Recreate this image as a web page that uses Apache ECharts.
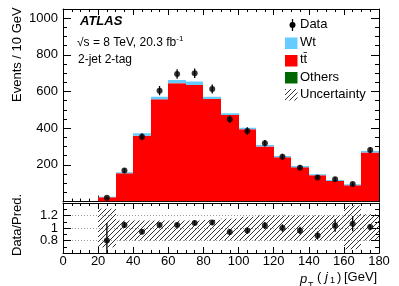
<!DOCTYPE html>
<html><head><meta charset="utf-8">
<script src="https://cdn.jsdelivr.net/npm/echarts@6/dist/echarts.min.js"></script>
<style>html,body{margin:0;padding:0;background:#fff}#c{width:399px;height:286px}</style>
</head><body><div id="c"></div>
<script>
// ---- data ----
const binEdges = [0,10,20,30,40,50,60,70,80,90,100,110,120,130,140,150,160,170,180];
const others  = [0,0,0.5,2,2,2,2,2,2,2,2,2,2,2,2,2,2,2];
const ttbar   = [0,0,23.5,152,357,556,643,634,558,470,392,298,240,185,141,110,87,265];
const wt      = [0,0,3,6,14,14,18,19,12,10,9,9,7,7,6,6,5,9];
const dataVal = [null,null,21,169,354,605,696,700,614,449,385,318,245,185,131,122,96,281];
const dataErr = [0,0,5,13,19,25,26,26,25,21,20,18,16,14,11,11,10,17];
const ratioVal = [null,null,0.80,1.05,0.94,1.05,1.05,1.08,1.09,0.935,0.96,1.04,1.00,0.96,0.88,1.04,1.07,1.015];
const ratioErr = [0,0,0.28,0.05,0.04,0.035,0.035,0.035,0.04,0.045,0.05,0.055,0.06,0.06,0.065,0.10,0.12,0.05];
const bandUp   = [null,null,1.31,1.12,1.12,1.12,1.12,1.12,1.13,1.15,1.18,1.2,1.2,1.2,1.2,1.2,1.36,1.22];
const bandDown = [null,null,0.69,0.8,0.8,0.8,0.8,0.8,0.8,0.8,0.8,0.8,0.8,0.8,0.8,0.8,0.66,0.8];
const xTicks = [0,20,40,60,80,100,120,140,160,180];
const yTicks = [200,400,600,800,1000];
const rTicks = [0.8,1,1.2];

const FONT = '"Liberation Sans", Arial, Helvetica, sans-serif';
const RED = '#ff0000', CYAN = '#66ccff', GREEN = '#006600';

function hatch(){
  const n=5, c=document.createElement('canvas'); c.width=n; c.height=n;
  const g=c.getContext('2d'); g.strokeStyle='#333'; g.lineWidth=1;
  g.beginPath(); g.moveTo(0,n); g.lineTo(n,0); g.moveTo(-1,1); g.lineTo(1,-1); g.moveTo(n-1,n+1); g.lineTo(n+1,n-1); g.stroke();
  return c;
}
const HATCH = {image: hatch(), repeat: 'repeat'};

const nb = binEdges.length-1;
const bins = [...Array(nb).keys()];
const centers = bins.map(i => (binEdges[i]+binEdges[i+1])/2);

function stackData(lowArr, highArr){
  return bins.map(i => [binEdges[i], binEdges[i+1], lowArr[i], highArr[i]]);
}
const lvl0 = bins.map(()=>0);
const lvl1 = bins.map(i => others[i]);
const lvl2 = bins.map(i => others[i]+ttbar[i]);
const lvl3 = bins.map(i => others[i]+ttbar[i]+wt[i]);

function rectSeries(name, fill, data, xi, yi, z){
  return {
    type:'custom', name, xAxisIndex:xi, yAxisIndex:yi, z: z||2, clip:true,
    encode:{x:[0,1], y:[2,3]},
    data,
    renderItem(params, api){
      if (api.value(2)==null || isNaN(api.value(2))) return;
      const a = api.coord([api.value(0), api.value(3)]);
      const b = api.coord([api.value(1), api.value(2)]);
      const x0 = Math.round(a[0]), x1 = Math.round(b[0]);
      const r = {x:x0, y:a[1], width:x1-x0, height:b[1]-a[1]};
      const cs = params.coordSys;
      const clipped = echarts.graphic.clipRectByRect(r, {x:cs.x, y:cs.y, width:cs.width, height:cs.height});
      if (!clipped) return;
      return {type:'rect', shape:clipped, style:{fill}};
    }
  };
}
function errSeries(vals, errs, xi, yi){
  return {
    type:'custom', xAxisIndex:xi, yAxisIndex:yi, z:5, clip:true,
    encode:{x:0, y:[1,2]},
    data: bins.filter(i=>vals[i]!=null).map(i => [centers[i], vals[i]-errs[i], vals[i]+errs[i]]),
    renderItem(params, api){
      const a = api.coord([api.value(0), api.value(1)]);
      const b = api.coord([api.value(0), api.value(2)]);
      const cs = params.coordSys;
      const y1 = Math.max(cs.y, Math.min(cs.y+cs.height, b[1]));
      const y2 = Math.max(cs.y, Math.min(cs.y+cs.height, a[1]));
      return {type:'line', shape:{x1:a[0], y1:y1, x2:a[0], y2:y2}, style:{stroke:'#000', lineWidth:1.3}};
    }
  };
}

const axTxt = {fontFamily:FONT, fontSize:13, color:'#000'};
function xAx(grid, pos, labels){
  return {type:'value', gridIndex:grid, position:pos, min:0, max:180, interval:20,
    axisLine:{show:true, onZero:false, lineStyle:{color:'#000', width:1}},
    axisTick:{show:true, inside:true, length:6, lineStyle:{color:'#000'}},
    minorTick:{show:true, splitNumber:4, length:3, lineStyle:{color:'#000'}},
    axisLabel: labels ? Object.assign({show:true, margin:2, formatter:v=>xTicks.includes(v)?String(v):''}, axTxt) : {show:false},
    splitLine:{show:false}};
}
function yAxMain(pos, labels, minor){
  return {type:'value', gridIndex:0, position:pos, min:0, max:1050, interval: minor?50:200,
    axisLine:{show:!minor, onZero:false, lineStyle:{color:'#000', width:1}},
    axisTick:{show:true, inside:true, length: minor?4:8, lineStyle:{color:'#000'}},
    axisLabel: labels ? Object.assign({show:true, margin:5, formatter:v=>yTicks.includes(v)?String(v):''}, axTxt) : {show:false},
    splitLine:{show:false}};
}
function yAxRatio(pos, labels){
  return {type:'value', gridIndex:1, position:pos, min:0.6, max:1.4, interval:0.2,
    axisLine:{show:true, onZero:false, lineStyle:{color:'#000', width:1}},
    axisTick:{show:true, inside:true, length:8, lineStyle:{color:'#000'}},
    minorTick:{show:true, splitNumber:2, length:4, lineStyle:{color:'#000'}},
    axisLabel: labels ? Object.assign({show:true, margin:5, formatter:v=>{const r=Math.round(v*10)/10; return rTicks.includes(r)?String(r):'';}}, axTxt) : {show:false},
    splitLine:{show: labels, lineStyle:{color:'#999', type:[1,2], width:1}}};
}

const chart = echarts.init(document.getElementById('c'), null, {renderer:'canvas'});
const graphics = [
  {type:'text', left:80, top:15, style:{text:'ATLAS', font:'italic bold 13px '+FONT, fill:'#000'}},
  {type:'text', left:77, top:35, style:{text:'{n|\u221As = 8 TeV, 20.3 fb}{s|-1}', rich:{n:{fontFamily:FONT, fontSize:12, lineHeight:14, verticalAlign:'bottom'}, s:{fontFamily:FONT, fontSize:8, lineHeight:14, verticalAlign:'top', padding:[0,0,6,0]}}, fill:'#000'}},
  {type:'text', left:78, top:54, style:{text:'2-jet 2-tag', font:'12px '+FONT, fill:'#000'}},
  // legend
  {type:'line', shape:{x1:292.5, y1:19, x2:292.5, y2:31}, style:{stroke:'#000', lineWidth:1.3}},
  {type:'circle', shape:{cx:292.5, cy:25, r:3}, style:{fill:'#000'}},
  {type:'rect', shape:{x:285, y:37.5, width:12.5, height:11.5}, style:{fill:CYAN}},
  {type:'rect', shape:{x:285, y:55, width:12.5, height:11.5}, style:{fill:RED}},
  {type:'rect', shape:{x:285, y:72, width:12.5, height:11.5}, style:{fill:GREEN}},
  {type:'rect', shape:{x:285, y:89, width:12.5, height:11.5}, style:{fill:HATCH}},
  {type:'text', left:300, top:18, style:{text:'Data', font:'13px '+FONT, fill:'#000'}},
  {type:'text', left:300, top:36, style:{text:'Wt', font:'13px '+FONT, fill:'#000'}},
  {type:'text', left:300, top:53, style:{text:'tt\u0304', font:'13px '+FONT, fill:'#000'}},
  {type:'text', left:300, top:71, style:{text:'Others', font:'13px '+FONT, fill:'#000'}},
  {type:'text', left:300, top:88, style:{text:'Uncertainty', font:'13px '+FONT, fill:'#000'}},
  // axis titles
  {type:'text', x:11, y:102, rotation:Math.PI/2, style:{text:'Events / 10 GeV', font:'13px '+FONT, fill:'#000', textVerticalAlign:'top'}},
  {type:'text', x:11, y:256, rotation:Math.PI/2, style:{text:'Data/Pred.', font:'13px '+FONT, fill:'#000', textVerticalAlign:'top'}},
  {type:'text', x:300, y:273, style:{text:'p', font:'italic 13px '+FONT, fill:'#000'}},
  {type:'text', x:308, y:281, style:{text:'T', font:'9px '+FONT, fill:'#000'}},
  {type:'text', x:317, y:271, style:{text:'(', font:'13px '+FONT, fill:'#000'}},
  {type:'text', x:325, y:271, style:{text:'j', font:'italic 13px '+FONT, fill:'#000'}},
  {type:'text', x:330, y:276, style:{text:'1', font:'9px '+FONT, fill:'#000'}},
  {type:'text', x:337, y:271, style:{text:')', font:'13px '+FONT, fill:'#000'}},
  {type:'text', x:344, y:271, style:{text:'[GeV]', font:'13px '+FONT, fill:'#000'}}
];

chart.setOption({
  animation:false,
  backgroundColor:'#fff',
  grid:[
    {left:63, right:20, top:9, height:192.6, containLabel:false},
    {left:63, right:20, top:203, height:50, containLabel:false}
  ],
  xAxis:[ xAx(0,'bottom',false), xAx(0,'top',false), xAx(1,'bottom',true), xAx(1,'top',false) ],
  yAxis:[ yAxMain('left',true,false), yAxMain('left',false,true), yAxMain('right',false,false), yAxMain('right',false,true),
          yAxRatio('left',true), yAxRatio('right',false) ],
  graphic: graphics,
  series:[
    rectSeries('Others', GREEN, stackData(lvl0, lvl1), 0, 0, 2),
    rectSeries('ttbar', RED, stackData(lvl1, lvl2), 0, 0, 2),
    rectSeries('Wt', CYAN, stackData(lvl2, lvl3), 0, 0, 2),
    errSeries(dataVal, dataErr, 0, 0),
    {type:'scatter', xAxisIndex:0, yAxisIndex:0, z:6, symbol:'circle', symbolSize:6, itemStyle:{color:'#000'},
      data: bins.filter(i=>dataVal[i]!=null).map(i=>[centers[i], dataVal[i]])},
    rectSeries('Unc', HATCH, bins.map(i=>[binEdges[i], binEdges[i+1], bandDown[i], bandUp[i]]), 2, 4, 3),
    errSeries(ratioVal, ratioErr, 2, 4),
    {type:'scatter', xAxisIndex:2, yAxisIndex:4, z:6, symbol:'circle', symbolSize:6, itemStyle:{color:'#000'},
      data: bins.filter(i=>ratioVal[i]!=null).map(i=>[centers[i], ratioVal[i]])}
  ]
});
</script></body></html>
